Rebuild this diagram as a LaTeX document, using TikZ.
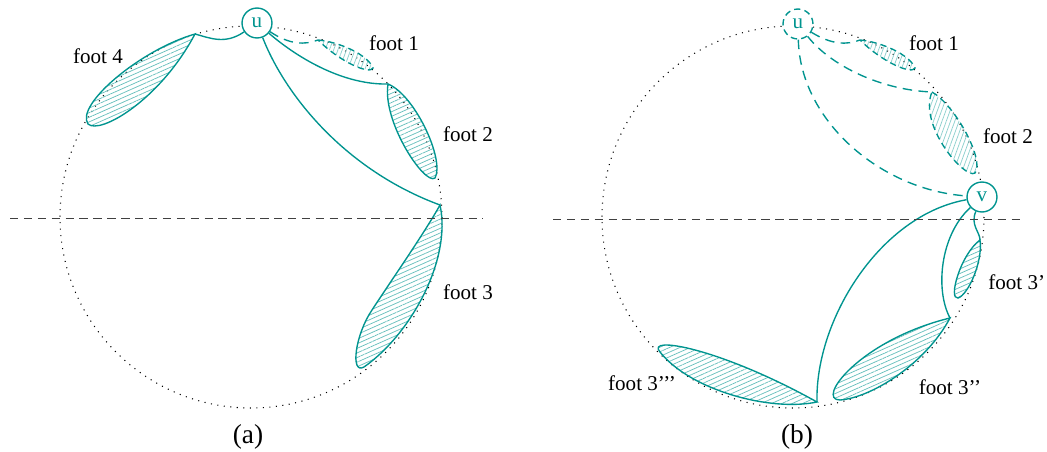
\documentclass[tikz,border=0pt]{standalone}
\usepackage{fontspec}
\setmainfont{Liberation Serif}
\usetikzlibrary{patterns.meta}
\definecolor{footc}{RGB}{0,148,143}
\begin{document}
\begin{tikzpicture}[x=0.0167cm,y=-0.0167cm,
    rim/.style={line width=0.5pt,dash pattern=on 0.5pt off 2.6pt},
    cut/.style={dash pattern=on 4pt off 2.6pt,line width=0.45pt,black!75},
    vtx/.style={draw=footc,circle,fill=white,minimum size=0.5cm,inner sep=0pt,text=footc,line width=0.65pt},
    edge/.style={draw=footc,line width=0.65pt},
    ghost/.style={draw=footc,line width=0.65pt,dash pattern=on 4.5pt off 3pt},
    petal/.style={draw=footc,line width=0.65pt,pattern={Lines[angle=24,distance=2pt,line width=0.35pt]},pattern color=footc!60},
    ghostpetal/.style={draw=footc,line width=0.65pt,dash pattern=on 3pt off 2pt,pattern={Lines[angle=70,distance=1.9pt,line width=0.35pt]},pattern color=footc!45},
    lbl/.style={inner sep=0pt},
    panelcap/.style={inner sep=0pt,font=\fontsize{13}{15}\selectfont}]
    \useasboundingbox (0,0) rectangle (1047,452);
    % (a)
    \begin{scope}[shift={(0,0)}]
        \draw[rim] (251,217) circle (191);
        \node[vtx] (ua) at (257,23) {u};
        \coordinate (a1) at (318,40);
        \coordinate (a2) at (388,84);
        \coordinate (a3) at (440,205);
        \coordinate (a4) at (195,34);
        % feet
        \draw[ghostpetal] (a1) .. controls (340,42) and (368,55) .. (373,68) .. controls (370,75) and (340,62) .. (a1) -- cycle;
        \draw[petal] (a2) .. controls (415,95) and (445,160) .. (435,178) .. controls (425,186) and (382,122) .. (a2) -- cycle;
        \draw[petal] (a3) .. controls (452,260) and (410,335) .. (364,367) .. controls (350,375) and (355,335) .. (372,310) .. controls (395,275) and (425,232) .. (a3) -- cycle;
        \draw[petal] (a4) .. controls (140,50) and (75,105) .. (88,124) .. controls (100,135) and (160,100) .. (a4) -- cycle;
        % edges
        \draw[ghost] (ua) .. controls (290,45) and (305,45) .. (a1);
        \draw[edge] (ua) .. controls (300,60) and (345,85) .. (a2);
        \draw[edge] (ua) .. controls (285,95) and (345,170) .. (a3);
        \draw[edge] (ua) .. controls (225,45) and (210,38) .. (a4);
        \node[lbl] (la1) at (394,43) {foot 1};
        \node[lbl] (la2) at (468,134) {foot 2};
        \node[lbl] (la3) at (468,292) {foot 3};
        \node[lbl] (la4) at (98,56) {foot 4};
        \node[panelcap] (capa) at (248,437) {(a)};
        \draw[cut] (10,218) -- (483,218);
    \end{scope}
    % (b)
    \begin{scope}[shift={(542,0)}]
        \draw[rim] (251,217) circle (191);
        \node[vtx,dash pattern=on 3pt off 2pt] (ub) at (256,24) {u};
        \node[vtx] (vb) at (440,197) {v};
        \coordinate (b1) at (318,40);
        \coordinate (b2) at (390,92);
        \coordinate (b3) at (438,240);
        \coordinate (b4) at (408,318);
        \coordinate (b5) at (275,402);
        % feet
        \draw[ghostpetal] (b1) .. controls (340,42) and (368,55) .. (373,68) .. controls (370,75) and (340,62) .. (b1) -- cycle;
        \draw[ghostpetal] (b2) .. controls (413,105) and (443,160) .. (433,173) .. controls (423,180) and (376,125) .. (b2) -- cycle;
        \draw[petal] (b3) .. controls (441,262) and (426,295) .. (416,298) .. controls (406,300) and (418,255) .. (b3) -- cycle;
        \draw[petal] (b4) .. controls (383,365) and (328,398) .. (298,400) .. controls (273,400) and (318,340) .. (b4) -- cycle;
        \draw[petal] (b5) .. controls (228,412) and (148,390) .. (118,352) .. controls (103,335) and (178,348) .. (b5) -- cycle;
        % edges
        \draw[ghost] (ub) .. controls (290,45) and (305,45) .. (b1);
        \draw[ghost] (ub) .. controls (288,65) and (338,90) .. (b2);
        \draw[ghost] (ub) .. controls (258,120) and (338,190) .. (vb);
        \draw[edge] (vb) .. controls (428,225) and (438,232) .. (b3);
        \draw[edge] (vb) .. controls (398,235) and (393,290) .. (b4);
        \draw[edge] (vb) .. controls (338,215) and (273,320) .. (b5);
        \node[lbl] (lb1) at (392,43) {foot 1};
        \node[lbl] (lb2) at (466,136) {foot 2};
        \node[lbl,anchor=west] (lb3) at (446,282) {foot 3'};
        \node[lbl] (lb4) at (408,387) {foot 3'{}'};
        \node[lbl] (lb5) at (100,383) {foot 3'{}'{}'};
        \node[panelcap] (capb) at (255,437) {(b)};
        \draw[cut] (11,219) -- (478,219);
    \end{scope}
\end{tikzpicture}
\end{document}
